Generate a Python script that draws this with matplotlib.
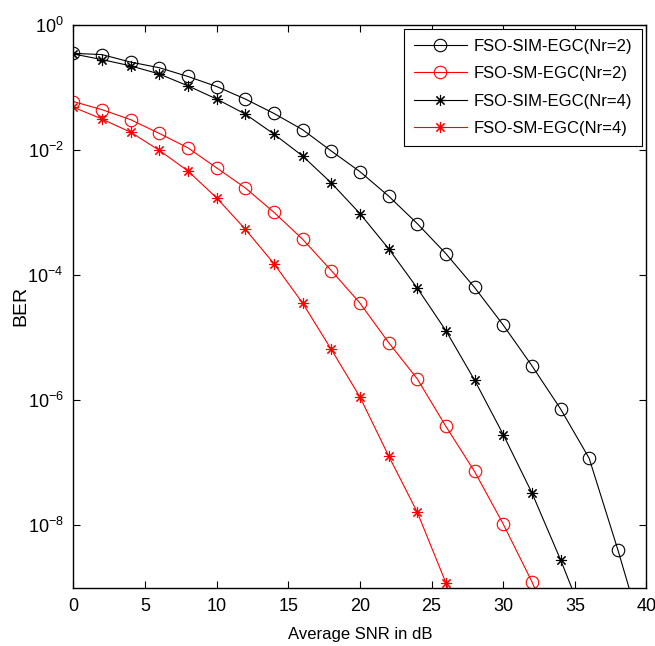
import matplotlib
matplotlib.use('Agg')
import matplotlib.pyplot as plt
import numpy as np
from matplotlib.ticker import FixedLocator, NullLocator, FuncFormatter

plt.rcParams['font.family'] = ['Liberation Sans', 'DejaVu Sans']
plt.rcParams['mathtext.fontset'] = 'custom'
plt.rcParams['mathtext.rm'] = 'Liberation Sans'
plt.rcParams['mathtext.it'] = 'Liberation Sans'

# Average SNR (dB) and log10(BER)
snr = [0, 2, 4, 6, 8, 10, 12, 14, 16, 18, 20, 22, 24, 26, 28, 30, 32, 34, 36, 38, 40]

sim_nr2 = [-0.46, -0.48, -0.60, -0.69, -0.83, -0.99, -1.19, -1.42, -1.68, -2.02, -2.35,
           -2.74, -3.18, -3.66, -4.20, -4.80, -5.45, -6.14, -6.93, -8.39, -9.95]
sm_nr2 = [-1.23, -1.36, -1.52, -1.74, -1.97, -2.29, -2.61, -3.00, -3.43, -3.93, -4.45,
          -5.08, -5.66, -6.42, -7.14, -7.98, -8.90, -9.95]
sim_nr4 = [-0.47, -0.56, -0.66, -0.79, -0.98, -1.19, -1.43, -1.75, -2.10, -2.53, -3.02,
           -3.58, -4.21, -4.89, -5.68, -6.55, -7.48, -8.55, -9.70]
sm_nr4 = [-1.32, -1.51, -1.72, -2.01, -2.34, -2.77, -3.27, -3.82, -4.45, -5.19, -5.95,
          -6.89, -7.79, -8.92, -10.10]

labels = ['FSO-SIM-EGC(Nr=2)', 'FSO-SM-EGC(Nr=2)', 'FSO-SIM-EGC(Nr=4)', 'FSO-SM-EGC(Nr=4)']
ytick_exp = [0, -2, -4, -6, -8]

fig = plt.figure(figsize=(6.55, 6.46), dpi=100)
ax = fig.add_axes([0.112, 0.090, 0.875, 0.872])

star = (8, 2, 0)
series = [
    (sim_nr2, 'black', 'o', 9),
    (sm_nr2, 'red', 'o', 9),
    (sim_nr4, 'black', star, 8),
    (sm_nr4, 'red', star, 8),
]
for (vals, col, mk, ms), lab in zip(series, labels):
    x = snr[:len(vals)]
    ax.semilogy(x, 10.0 ** np.array(vals), color=col, marker=mk, markersize=ms,
                markerfacecolor='none', markeredgecolor=col, markeredgewidth=0.8,
                linewidth=0.8, label=lab)

ax.set_xlim(0, 40)
ax.set_ylim(1e-9, 1e0)
ax.set_xticks(range(0, 41, 5))
ax.yaxis.set_major_locator(FixedLocator([10.0 ** e for e in ytick_exp]))
ax.yaxis.set_minor_locator(NullLocator())
ax.yaxis.set_major_formatter(FuncFormatter(lambda v, p: r'$10^{%d}$' % int(round(np.log10(v)))))

ax.tick_params(axis='both', direction='in', top=True, right=True, labelsize=13,
               length=5, width=0.8, pad=7)
for s in ax.spines.values():
    s.set_linewidth(1.0)

ax.set_xlabel('Average SNR in dB', fontsize=12, labelpad=9)
ax.set_ylabel('BER', fontsize=14, labelpad=-1)

leg = ax.legend(loc='upper right', fontsize=12, fancybox=False, framealpha=1,
                edgecolor='black', handlelength=3.2, labelspacing=0.75,
                borderaxespad=0.25, handletextpad=0.4, borderpad=0.6)
leg.get_frame().set_linewidth(0.8)

fig.savefig('out.png', dpi=100)
